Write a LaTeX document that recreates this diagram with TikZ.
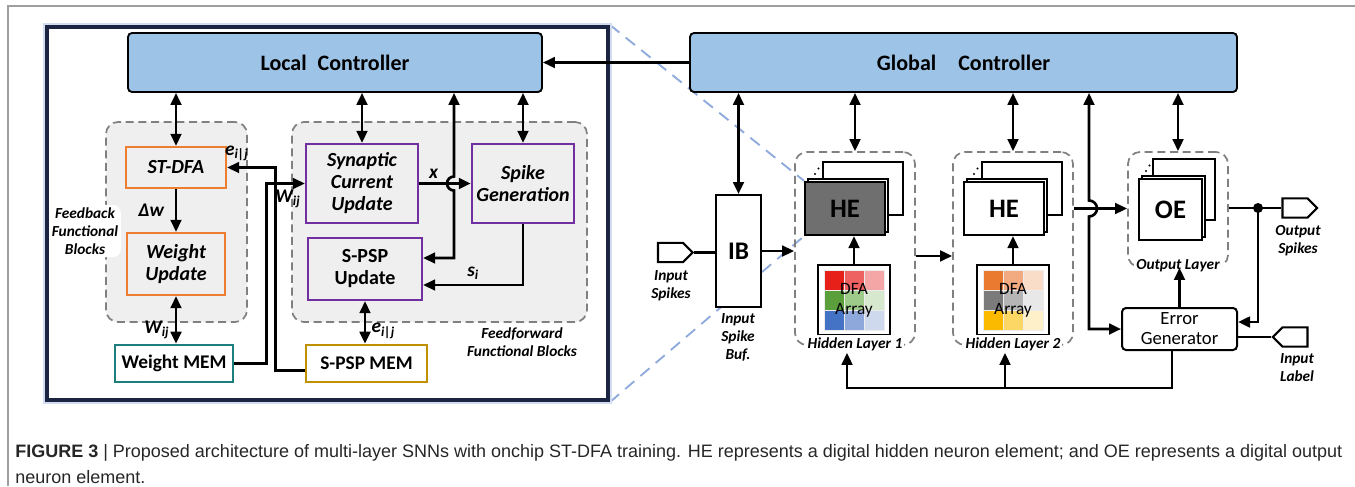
\documentclass[tikz,border=0pt]{standalone}
\usepackage{fontspec}
\setmainfont{Carlito}
\newfontfamily\capfont{Liberation Sans}
\usetikzlibrary{shapes,shapes.symbols,arrows.meta,positioning,calc,backgrounds}

\definecolor{ctrlblue}{HTML}{9DC3E6}
\definecolor{fborange}{HTML}{ED7D31}
\definecolor{ffpurple}{HTML}{7030A0}
\definecolor{memteal}{HTML}{1D7E7E}
\definecolor{memgold}{HTML}{BF9000}
\definecolor{boxgray}{HTML}{EFEFEF}
\definecolor{dashgray}{HTML}{808080}
\definecolor{hedark}{HTML}{6F6F6F}
\definecolor{panelnavy}{HTML}{1B2440}
\definecolor{zoomblue}{HTML}{8FAADC}
% DFA array cells
\definecolor{ra}{HTML}{E8201A}\definecolor{rb}{HTML}{EE6262}\definecolor{rc}{HTML}{F4A6A6}
\definecolor{ga}{HTML}{5B9E3C}\definecolor{gb}{HTML}{9FCB8A}\definecolor{gc}{HTML}{D6E9CF}
\definecolor{ba}{HTML}{4472C4}\definecolor{bb}{HTML}{8EA8DC}\definecolor{bc}{HTML}{CFD9EE}
\definecolor{oa}{HTML}{E97A2F}\definecolor{ob}{HTML}{F2AB80}\definecolor{oc}{HTML}{F9DDC9}
\definecolor{ka}{HTML}{7B7B7B}\definecolor{kb}{HTML}{B5B5B5}\definecolor{kc}{HTML}{E8E8E8}
\definecolor{ya}{HTML}{FBBA00}\definecolor{yb}{HTML}{FDD766}\definecolor{yc}{HTML}{FEF0C9}

\tikzset{
    line/.style  = {-{Triangle[length=9pt,width=8pt]}, line width=2pt},
    dline/.style = {{Triangle[length=9pt,width=8pt]}-{Triangle[length=9pt,width=8pt]}, line width=2pt},
    wire/.style  = {line width=2pt},
    ctrl/.style  = {rectangle, draw=black, fill=ctrlblue, line width=1.4pt, rounded corners=3pt,
                    font=\fontsize{16.5}{18}\selectfont\bfseries},
    fbblock/.style = {rectangle, draw=fborange, fill=boxgray, line width=1.7pt, align=center,
                      font=\fontsize{15}{16.5}\selectfont\bfseries\itshape},
    ffblock/.style = {fbblock, draw=ffpurple},
    memblock/.style = {rectangle, fill=white, line width=1.9pt, font=\fontsize{14.5}{16}\selectfont\bfseries},
    group/.style = {rectangle, draw=dashgray, dash pattern=on 6pt off 3.5pt, line width=1.3pt, rounded corners=9pt},
    grplabel/.style = {align=center, inner sep=2pt, font=\fontsize{11.5}{13.5}\selectfont\bfseries\itshape},
    mathlbl/.style = {inner sep=1pt, font=\fontsize{14.5}{16}\selectfont\bfseries\itshape}
}

\begin{document}
\begin{tikzpicture}[
        x=0.75pt, y=-0.75pt,
        panel/.style={rectangle, draw=panelnavy, line width=3pt, fill=white,
                      preaction={draw=zoomblue!40, line width=6pt}},
        heblock/.style={rectangle, draw=black, line width=1.4pt, fill=white, minimum width=60pt, minimum height=40pt},
        oeblock/.style={heblock, minimum width=47pt, minimum height=46pt},
        arraybox/.style={rectangle, draw=black, line width=1.7pt, fill=white, minimum width=54pt, minimum height=52.5pt},
        pin/.style={signal, draw=black, line width=1.6pt, fill=white, minimum width=26pt, minimum height=14.5pt, inner sep=0pt},
        layerlbl/.style={grplabel, fill=white, inner sep=1.5pt},
        zoomline/.style={draw=zoomblue, line width=1.4pt, dash pattern=on 9pt off 6pt}
    ]

    \useasboundingbox (0,0) rectangle (1355,486);
    \draw[gray!75, line width=0.8pt] (8,486) -- (8,6) -- (1355,6);

    % --- Local (per-layer) part ---
    \node[panel, minimum width=420.75pt, minimum height=279.75pt] (panel) at (327.5,213.5) {};
    \node[ctrl, minimum width=310.5pt, minimum height=44.25pt] (lctrl) at (335,62.5) {Local\enspace Controller};
    \node[group, fill=boxgray, minimum width=105.75pt, minimum height=150pt] (fbgrp) at (176.5,222) {};
    \node[group, fill=boxgray, minimum width=221.25pt, minimum height=150pt] (ffgrp) at (439.5,222) {};

    \node[fbblock, minimum width=75pt, minimum height=30.75pt] (stdfa) at (176,167.5) {ST-DFA};
    \node[fbblock, minimum width=73.5pt, minimum height=46.5pt] (wupd) at (176,264) {Weight\\Update};
    \node[ffblock, minimum width=84pt, minimum height=59.25pt] (syncur) at (362,183.5) {Synaptic\\Current\\Update};
    \node[ffblock, minimum width=75pt, minimum height=59.25pt] (spkgen) at (523,183.5) {Spike\\Generation};
    \node[ffblock, font=\fontsize{15}{16.5}\selectfont\bfseries, minimum width=85.5pt, minimum height=46.5pt] (spspupd) at (365,269) {S-PSP\\Update};
    \node[memblock, draw=memteal, minimum width=88.5pt, minimum height=27.75pt] (wmem) at (174,363.5) {Weight MEM};
    \node[memblock, draw=memgold, minimum width=90.75pt, minimum height=27.75pt] (smem) at (366.5,363.5) {S-PSP MEM};

    \node[grplabel, fill=white, rounded corners=6pt] (fblbl) at (85,231) {Feedback\\Functional\\Blocks};
    \node[grplabel] (fflbl) at (522,342) {Feedforward\\Functional Blocks};

    % --- Global part ---
    \node[ctrl, minimum width=410.25pt, minimum height=44.25pt] (gctrl) at (963.5,62.5) {Global\quad Controller};
    \node[group, minimum width=90pt, minimum height=144.75pt] (hl1) at (855,248.5) {};
    \node[group, minimum width=90pt, minimum height=144.75pt] (hl2) at (1013,248.5) {};
    \node[group, minimum width=75pt, minimum height=86.25pt] (ol) at (1178,209.5) {};

    \node[heblock] (he1b) at (863,188.5) {};
    \node[heblock] (he1m) at (848,205.5) {};
    \node[heblock, fill=hedark, font=\fontsize{20}{22}\selectfont\bfseries] (he1f) at (845,208.5) {HE};
    \node[heblock] (he2b) at (1022,188.5) {};
    \node[heblock] (he2m) at (1007,205.5) {};
    \node[heblock, font=\fontsize{20}{22}\selectfont\bfseries] (he2f) at (1004,208.5) {HE};
    \node[oeblock] (oeb) at (1184,189.5) {};
    \node[oeblock] (oem) at (1173.5,206.5) {};
    \node[oeblock, font=\fontsize{20}{22}\selectfont\bfseries] (oef) at (1170.5,209.5) {OE};
    \fill (815,174) circle (1.1) (818.5,168.5) circle (1.1);
    \fill (974,174) circle (1.1) (977.5,168.5) circle (1.1);
    \fill (1146,171) circle (1.1) (1149.5,165.5) circle (1.1);

    % DFA arrays
    \node[arraybox] (arr1) at (854,300) {};
    \node[arraybox] (arr2) at (1013,300) {};
    \begin{scope}[shift={(arr1.center)}]
        \foreach \c/\i/\j in {ra/0/0, rb/1/0, rc/2/0, ga/0/1, gb/1/1, gc/2/1, ba/0/2, bb/1/2, bc/2/2}
            \filldraw[fill=\c, draw=white!85!gray, line width=0.4pt] (-30+20*\i,-30+20*\j) rectangle ++(20,20);
    \end{scope}
    \begin{scope}[shift={(arr2.center)}]
        \foreach \c/\i/\j in {oa/0/0, ob/1/0, oc/2/0, ka/0/1, kb/1/1, kc/2/1, ya/0/2, yb/1/2, yc/2/2}
            \filldraw[fill=\c, draw=white!85!gray, line width=0.4pt] (-30+20*\i,-30+20*\j) rectangle ++(20,20);
    \end{scope}
    \node[align=center, font=\fontsize{13}{15}\selectfont] (arr1txt) at (arr1.center) {DFA\\Array};
    \node[align=center, font=\fontsize{13}{15}\selectfont] (arr2txt) at (arr2.center) {DFA\\Array};

    \node[layerlbl] (hl1lbl) at (855,344) {Hidden Layer 1};
    \node[layerlbl] (hl2lbl) at (1013,344) {Hidden Layer 2};
    \node[layerlbl] (ollbl) at (1178,266) {Output Layer};

    \node[rectangle, draw=black, line width=1.5pt, fill=white, minimum width=33.75pt, minimum height=84pt,
          font=\fontsize{19}{21}\selectfont\bfseries] (ib) at (738.5,251) {IB};
    \node[grplabel, fill=white] (iblbl) at (738,337) {Input\\Spike\\Buf.};
    \node[pin, signal to=east] (ispk) at (670.5,252.5) {};
    \node[grplabel] (ispklbl) at (671,286) {Input\\Spikes};
    \node[pin, signal to=east] (ospk) at (1295,208) {};
    \node[grplabel] (ospklbl) at (1298,241) {Output\\Spikes};
    \node[pin, signal to=west] (ilbl) at (1295,337) {};
    \node[grplabel] (ilbllbl) at (1297,368) {Input\\Label};

    \node[rectangle, draw=black, line width=1.5pt, fill=white, rounded corners=3pt, align=center,
          minimum width=86.25pt, minimum height=31.5pt, font=\fontsize{14}{15}\selectfont] (errgen) at (1179.5,329) {Error\\Generator};
    \node[circle, fill=black, inner sep=0pt, minimum size=7.5pt] (odot) at (1258,208) {};

    % zoom lines
    \begin{scope}[on background layer]
        \draw[zoomline] (panel.north east) -- (he1f.north west);
        \draw[zoomline] (panel.south east) -- (he1f.south west);
    \end{scope}

    % --- Local connections ---
    \draw[line] (gctrl.west) -- (lctrl.east);
    \draw[dline] (lctrl.south -| stdfa.north) -- (stdfa.north);
    \draw[dline] (lctrl.south -| syncur.north) -- (syncur.north);
    \draw[dline] (lctrl.south -| spkgen.north) -- (spkgen.north);
    \draw[line] (stdfa.south) -- (wupd.north) node[midway, left=7pt, mathlbl] {Δw};
    \draw[dline] (wupd.south) -- (wupd.south |- wmem.north) node[pos=0.7, left=3pt, mathlbl] {W\textsubscript{ij}};
    \draw[dline] (spspupd.south) -- (spspupd.south |- smem.north) node[pos=0.7, right=3pt, mathlbl] {e\textsubscript{i|j}};
    \draw[line] (syncur.east) -- (spkgen.west) node[pos=0.28, above=2pt, mathlbl] {x};
    \coordinate (xhop) at (454,183.5);
    \draw[dline] (lctrl.south -| xhop) -- ([yshift=5.25pt]xhop) arc[start angle=270, end angle=90, radius=7]
        |- ([yshift=8.25pt]spspupd.east);
    \draw[line] (spkgen.south) |- ([yshift=-12pt]spspupd.east) node[pos=0.75, above=2pt, mathlbl] {s\textsubscript{i}};
    \draw[line] (wmem.east) -- ++(32,0) |- (syncur.west) node[pos=0.78, below=3pt, mathlbl] {W\textsubscript{ij}};
    \draw[line] ([yshift=-5pt]smem.west) -- ++(-29,0) |- (stdfa.east) node[pos=0.9, above=3pt, mathlbl] {e\textsubscript{i|j}};

    % --- Global connections ---
    \draw[dline] (gctrl.south -| ib.north) -- (ib.north);
    \draw[dline] (gctrl.south -| hl1.north) -- (hl1.north);
    \draw[dline] (gctrl.south -| hl2.north) -- (hl2.north);
    \draw[dline] (gctrl.south -| ol.north) -- (ol.north);
    \draw[wire] (ispk.east) -- (ib.west |- ispk.east);
    \draw[line] (ib.east) -- (ib.east -| hl1.west);
    \draw[line] ([yshift=-5.6pt]hl1.east) -- ([yshift=-5.6pt]hl2.west);
    \draw[line] (arr1.north) -- (arr1.north |- he1f.south);
    \draw[line] (arr2.north) -- (arr2.north |- he2f.south);
    \draw[line] (hl2.east |- he2f.east) -- (ol.west |- he2f.east);
    \draw[wire] (ol.east |- ospk.west) -- (ospk.west);
    \draw[line] (odot.center) |- ([yshift=5.25pt]errgen.east);
    \draw[wire] (ilbl.west) -- (ilbl.west -| errgen.east);
    \draw[line] (errgen.north) -- (errgen.north |- ol.south);
    \coordinate (ghop) at (1089,208.5);
    \draw[dline] (gctrl.south -| ghop) -- ([yshift=6pt]ghop) arc[start angle=270, end angle=450, radius=8]
        |- (errgen.west);

    % Error feedback
    \coordinate (fb1) at (847,388);
    \coordinate (fb2) at (1005,388);
    \draw[line] ([xshift=-5.6pt]errgen.south) |- (fb1) -- (fb1 |- hl1lbl.south);
    \draw[line] (fb2) -- (fb2 |- hl2lbl.south);

    % --- Caption ---
    \node[anchor=west, inner sep=0pt, text=black!85, font=\capfont\fontsize{13.5}{15}\selectfont] (cap1) at (15,453)
        {\textbf{FIGURE 3} | Proposed architecture of multi-layer SNNs with onchip ST-DFA training. HE represents a digital hidden neuron element; and OE represents a digital output};
    \node[anchor=west, inner sep=0pt, text=black!85, font=\capfont\fontsize{13.5}{15}\selectfont] (cap2) at (15,477) {neuron element.};
\end{tikzpicture}
\end{document}
